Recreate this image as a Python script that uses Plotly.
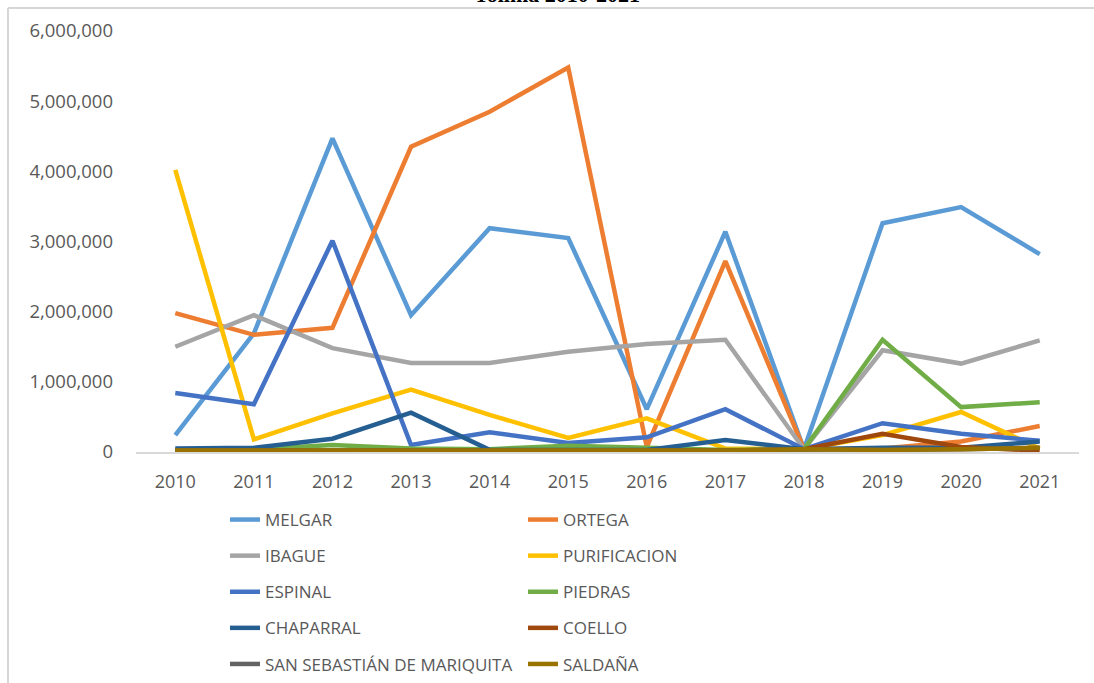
import plotly.graph_objects as go

years = ["2010", "2011", "2012", "2013", "2014", "2015", "2016", "2017", "2018", "2019", "2020", "2021"]

melgar = [240000, 1690000, 4470000, 1950000, 3190000, 3050000, 610000, 3140000, 40000, 3260000, 3490000, 2820000]
ortega = [1980000, 1670000, 1770000, 4350000, 4850000, 5480000, 70000, 2720000, 40000, 50000, 150000, 370000]
ibague = [1500000, 1950000, 1480000, 1270000, 1270000, 1430000, 1540000, 1600000, 40000, 1450000, 1260000, 1590000]
purificacion = [4020000, 180000, 550000, 890000, 530000, 200000, 480000, 50000, 40000, 240000, 570000, 50000]
espinal = [840000, 680000, 3010000, 100000, 280000, 130000, 210000, 610000, 40000, 410000, 260000, 160000]
piedras = [30000, 40000, 100000, 50000, 40000, 90000, 60000, 30000, 40000, 1600000, 640000, 710000]
chaparral = [50000, 60000, 190000, 560000, 30000, 30000, 30000, 170000, 40000, 60000, 60000, 150000]
coello = [20000, 20000, 20000, 20000, 20000, 20000, 20000, 20000, 40000, 260000, 70000, 20000]
mariquita = [20000, 20000, 20000, 20000, 20000, 20000, 20000, 20000, 40000, 30000, 40000, 60000]
saldana = [20000, 20000, 20000, 20000, 20000, 20000, 20000, 20000, 40000, 30000, 40000, 60000]

series = [
    ("MELGAR", melgar, "#5B9BD5", "legend"),
    ("ORTEGA", ortega, "#ED7D31", "legend2"),
    ("IBAGUE", ibague, "#A5A5A5", "legend"),
    ("PURIFICACION", purificacion, "#FFC000", "legend2"),
    ("ESPINAL", espinal, "#4472C4", "legend"),
    ("PIEDRAS", piedras, "#70AD47", "legend2"),
    ("CHAPARRAL", chaparral, "#255E91", "legend"),
    ("COELLO", coello, "#9E480E", "legend2"),
    ("SAN SEBASTIÁN DE MARIQUITA", mariquita, "#636363", "legend"),
    ("SALDAÑA", saldana, "#997300", "legend2"),
]

fig = go.Figure()
for name, vals, color, lg in series:
    fig.add_trace(go.Scatter(
        x=years, y=vals, name=name, mode="lines",
        line=dict(color=color, width=4.5),
        legend=lg, legendgroup=name,
    ))

W, H = 1094, 683
L, R, T, B = 136, 15, 31, 231
pw, ph = W - L - R, H - T - B

def px_x(p):
    return (p - L) / pw

def px_y(p):
    return (H - B - p) / ph

font_fam = "Open Sans, Noto Sans, sans-serif"
txt_col = "#595959"

legend_common = dict(
    orientation="v", font=dict(family=font_fam, size=17, color=txt_col),
    bgcolor="rgba(0,0,0,0)", tracegroupgap=11, yanchor="top", xanchor="left",
    itemclick=False,
)

fig.update_layout(
    width=W, height=H,
    margin=dict(l=L, r=R, t=T, b=B, autoexpand=False),
    paper_bgcolor="white", plot_bgcolor="white",
    font=dict(family=font_fam, color=txt_col),
    showlegend=True,
    legend=dict(x=px_x(225), y=px_y(502), **legend_common),
    legend2=dict(x=px_x(523), y=px_y(502), **legend_common),
    xaxis=dict(
        type="category", range=[-0.5, 11.5], showgrid=False,
        showline=True, linecolor="#D9D9D9", linewidth=2,
        ticks="", tickfont=dict(size=18, color=txt_col), ticklabelstandoff=12,
        zeroline=False,
    ),
    yaxis=dict(
        range=[0, 6000000], tickvals=[0, 1000000, 2000000, 3000000, 4000000, 5000000, 6000000],
        ticktext=["0", "1,000,000", "2,000,000", "3,000,000", "4,000,000", "5,000,000", "6,000,000"],
        showgrid=False, zeroline=False, showline=False, ticks="",
        tickfont=dict(size=18.5, color=txt_col), ticklabelstandoff=22,
    ),
    shapes=[
        dict(type="line", xref="paper", yref="paper", x0=px_x(8), x1=px_x(8), y0=px_y(8), y1=px_y(700),
             line=dict(color="#D6D6D6", width=2)),
        dict(type="line", xref="paper", yref="paper", x0=px_x(8), x1=px_x(1100), y0=px_y(8), y1=px_y(8),
             line=dict(color="#D6D6D6", width=2)),
    ],
    annotations=[
        dict(text="<b>Tolima 2010-2021</b>", xref="paper", yref="paper", x=px_x(557), y=px_y(-5),
             xanchor="center", yanchor="middle", showarrow=False,
             font=dict(family="Liberation Serif, serif", size=22, color="black")),
    ],
)

fig.write_html("out.html", config={"displayModeBar": False},
               post_script="document.body.style.margin='0px';")
